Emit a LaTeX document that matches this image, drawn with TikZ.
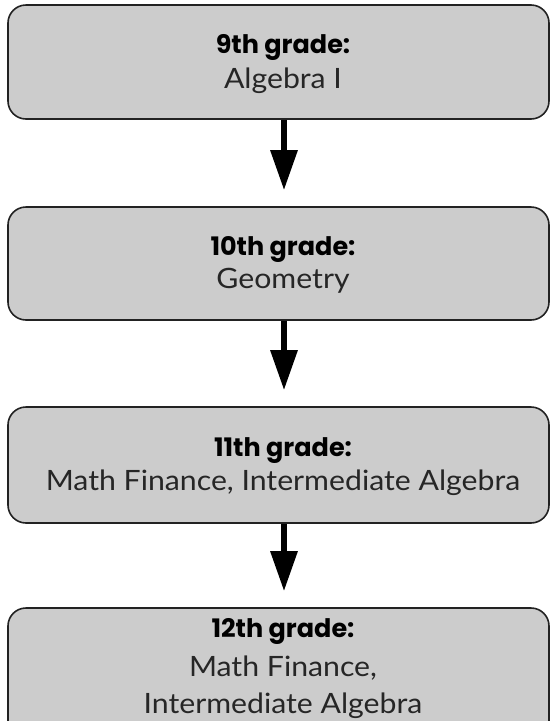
\documentclass[tikz,border=0pt]{standalone}
\usepackage{fontspec}
\setmainfont{Lato}[FakeStretch=1.08]
\newfontfamily\headfont{Poppins}[UprightFont=* Bold]
\usetikzlibrary{arrows.meta}
\definecolor{boxgray}{HTML}{CCCCCC}
\definecolor{edgegray}{HTML}{222222}
\definecolor{bodytext}{HTML}{262626}
\tikzset{
  gradebox/.style={draw=edgegray, line width=1.6pt, fill=boxgray, rounded corners=18pt,
    minimum width=541pt, inner sep=0pt},
  headline/.style={anchor=base, inner sep=0pt, font=\headfont\fontsize{25.5}{30}\selectfont},
  bodyline/.style={anchor=base, inner sep=0pt, text=bodytext, font=\fontsize{28}{34}\selectfont},
  flowarrow/.style={line width=6pt, -{Triangle[width=26pt,length=40pt]}, shorten >=16pt}
}
\begin{document}
\begin{tikzpicture}[x=1pt,y=-1pt]
\useasboundingbox (0,0) rectangle (551,721);
\clip (0,0) rectangle (551,721);
\node[gradebox, minimum height=114pt] (b1) at (278.5,62) {};
\node[gradebox, minimum height=113pt] (b2) at (278.5,263.5) {};
\node[gradebox, minimum height=116pt] (b3) at (278.5,465) {};
\node[gradebox, minimum height=136pt] (b4) at (278.5,676) {};
\node[headline] (h1) at (283,53) {9th grade:};
\node[bodyline] (t1) at (283,88) {Algebra I};
\node[headline] (h2) at (283,255) {10th grade:};
\node[bodyline] (t2) at (283,288) {Geometry};
\node[headline] (h3) at (283,456) {11th grade:};
\node[bodyline] (t3) at (283,490) {Math Finance, Intermediate Algebra};
\node[headline] (h4) at (283,637) {12th grade:};
\node[bodyline] (t4) at (283,676) {Math Finance,};
\node[bodyline] (t5) at (283,713) {Intermediate Algebra};
\draw[flowarrow] ([xshift=5.5pt]b1.south) -- ([xshift=5.5pt]b2.north);
\draw[flowarrow] ([xshift=5.5pt]b2.south) -- ([xshift=5.5pt]b3.north);
\draw[flowarrow] ([xshift=5.5pt]b3.south) -- ([xshift=5.5pt]b4.north);
\end{tikzpicture}
\end{document}
